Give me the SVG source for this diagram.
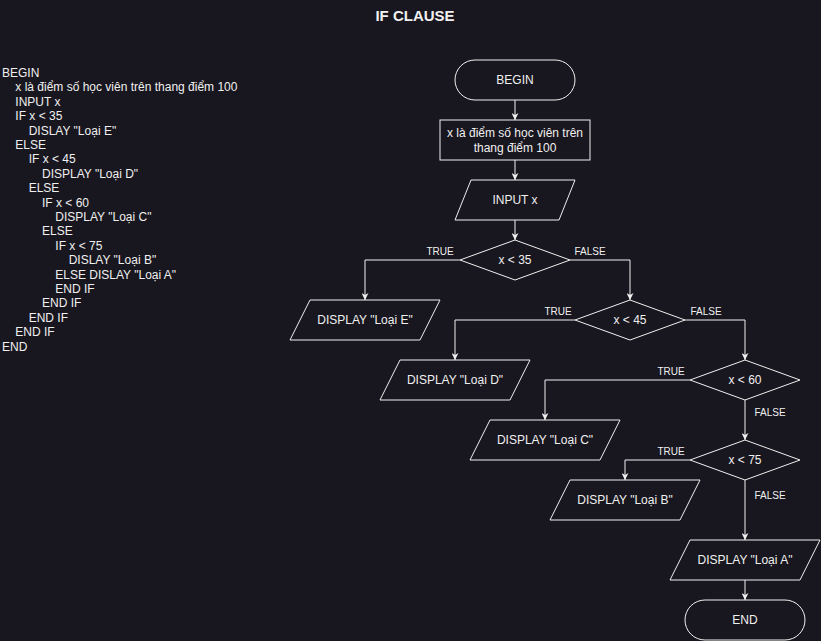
<svg xmlns="http://www.w3.org/2000/svg" width="821" height="641" viewBox="0 0 821 641">
  <defs>
    <marker id="arrow" viewBox="0 0 10 10" refX="10" refY="5" markerWidth="7" markerHeight="7" markerUnits="userSpaceOnUse" orient="auto">
      <path d="M0,0 L10,5 L0,10 L3,5 Z" fill="#f0f0f0"/>
    </marker>
  </defs>
  <style>
    .shape { fill: none; stroke: #f0f0f0; stroke-width: 1; }
    .edge { fill: none; stroke: #f0f0f0; stroke-width: 1; marker-end: url(#arrow); }
    text { font-family: "Liberation Sans", Arial, sans-serif; fill: #f0f0f0; }
    .lbl { font-size: 12px; text-anchor: middle; }
    .edge-lbl { font-size: 10px; text-anchor: middle; }
    .code { font-size: 12px; }
    .title { font-size: 15px; font-weight: bold; text-anchor: middle; }
  </style>
  <rect width="821" height="641" fill="#18161e"/>

  <text class="title" x="415" y="21">IF CLAUSE</text>

  <!-- pseudocode listing -->
  <g id="pseudocode" class="code">
    <text class="code" x="2" y="77">BEGIN</text>
    <text class="code" x="15.3" y="91.4">x là điểm số học viên trên thang điểm 100</text>
    <text class="code" x="15.3" y="105.8">INPUT x</text>
    <text class="code" x="15.3" y="120.2">IF x &lt; 35</text>
    <text class="code" x="28.7" y="134.6">DISLAY "Loại E"</text>
    <text class="code" x="15.3" y="149">ELSE</text>
    <text class="code" x="28.7" y="163.4">IF x &lt; 45</text>
    <text class="code" x="42" y="177.8">DISPLAY "Loại D"</text>
    <text class="code" x="28.7" y="192.2">ELSE</text>
    <text class="code" x="42" y="206.6">IF x &lt; 60</text>
    <text class="code" x="55.3" y="221">DISPLAY "Loại C"</text>
    <text class="code" x="42" y="235.4">ELSE</text>
    <text class="code" x="55.3" y="249.8">IF x &lt; 75</text>
    <text class="code" x="68.7" y="264.2">DISLAY "Loại B"</text>
    <text class="code" x="55.3" y="278.6">ELSE DISLAY "Loại A"</text>
    <text class="code" x="55.3" y="293">END IF</text>
    <text class="code" x="42" y="307.4">END IF</text>
    <text class="code" x="28.7" y="321.8">END IF</text>
    <text class="code" x="15.3" y="336.2">END IF</text>
    <text class="code" x="2" y="350.6">END</text>
  </g>

  <!-- connectors -->
  <g id="connectors">
    <path class="edge" d="M515,100 L515,120"/>
    <path class="edge" d="M515,160 L515,180"/>
    <path class="edge" d="M515,220 L515,240"/>
    <path class="edge" d="M460,260 L365,260 L365,300"/>
    <path class="edge" d="M570,260 L630,260 L630,300"/>
    <path class="edge" d="M575,320 L455,320 L455,360"/>
    <path class="edge" d="M685,320 L745,320 L745,360"/>
    <path class="edge" d="M690,380 L545,380 L545,420"/>
    <path class="edge" d="M745,400 L745,440"/>
    <path class="edge" d="M690,460 L625,460 L625,480"/>
    <path class="edge" d="M745,480 L745,540"/>
    <path class="edge" d="M745,580 L745,600"/>
    <text class="edge-lbl" x="440" y="255">TRUE</text>
    <text class="edge-lbl" x="590" y="255">FALSE</text>
    <text class="edge-lbl" x="558" y="315">TRUE</text>
    <text class="edge-lbl" x="706" y="315">FALSE</text>
    <text class="edge-lbl" x="671" y="375">TRUE</text>
    <text class="edge-lbl" x="770" y="416">FALSE</text>
    <text class="edge-lbl" x="671" y="455">TRUE</text>
    <text class="edge-lbl" x="770" y="499">FALSE</text>
  </g>

  <g id="begin">
    <rect class="shape" x="455" y="60" width="120" height="40" rx="20" ry="20"/>
    <text class="lbl" x="515" y="84">BEGIN</text>
  </g>
  <g id="define-x">
    <rect class="shape" x="440" y="120" width="150" height="40"/>
    <text class="lbl" x="515" y="136.5">x là điểm số học viên trên</text>
    <text class="lbl" x="515" y="151.5">thang điểm 100</text>
  </g>
  <g id="input-x">
    <polygon class="shape" points="471,180 575,180 559,220 455,220"/>
    <text class="lbl" x="515" y="204">INPUT x</text>
  </g>
  <g id="cond-35">
    <polygon class="shape" points="515,240 570,260 515,280 460,260"/>
    <text class="lbl" x="515" y="264">x &lt; 35</text>
  </g>
  <g id="display-e">
    <polygon class="shape" points="310,300 440,300 420,340 290,340"/>
    <text class="lbl" x="365" y="324">DISPLAY "Loại E"</text>
  </g>
  <g id="cond-45">
    <polygon class="shape" points="630,300 685,320 630,340 575,320"/>
    <text class="lbl" x="630" y="324">x &lt; 45</text>
  </g>
  <g id="display-d">
    <polygon class="shape" points="400,360 530,360 510,400 380,400"/>
    <text class="lbl" x="455" y="384">DISPLAY "Loại D"</text>
  </g>
  <g id="cond-60">
    <polygon class="shape" points="745,360 800,380 745,400 690,380"/>
    <text class="lbl" x="745" y="384">x &lt; 60</text>
  </g>
  <g id="display-c">
    <polygon class="shape" points="490,420 620,420 600,460 470,460"/>
    <text class="lbl" x="545" y="444">DISPLAY "Loại C"</text>
  </g>
  <g id="cond-75">
    <polygon class="shape" points="745,440 800,460 745,480 690,460"/>
    <text class="lbl" x="745" y="464">x &lt; 75</text>
  </g>
  <g id="display-b">
    <polygon class="shape" points="570,480 700,480 680,520 550,520"/>
    <text class="lbl" x="625" y="504">DISPLAY "Loại B"</text>
  </g>
  <g id="display-a">
    <polygon class="shape" points="690,540 820,540 800,580 670,580"/>
    <text class="lbl" x="745" y="564">DISPLAY "Loại A"</text>
  </g>
  <g id="end">
    <rect class="shape" x="685" y="600" width="120" height="40" rx="20" ry="20"/>
    <text class="lbl" x="745" y="624">END</text>
  </g>
</svg>
